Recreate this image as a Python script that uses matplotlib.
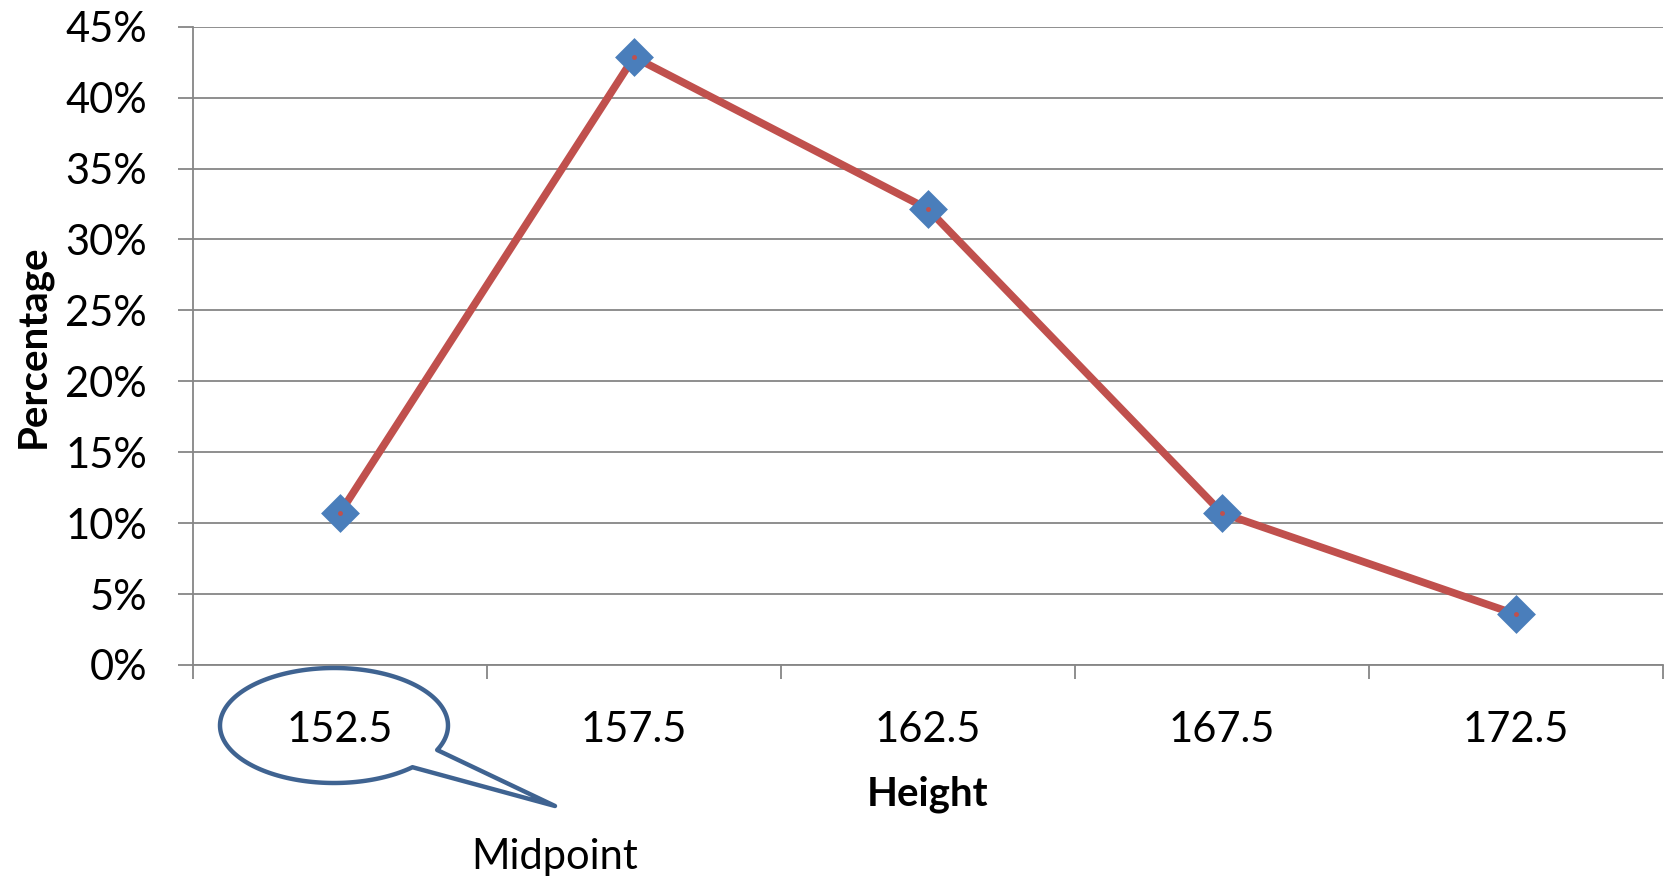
import numpy as np
import matplotlib
matplotlib.use('Agg')
import matplotlib.pyplot as plt
from matplotlib.patches import Polygon
from matplotlib.ticker import FuncFormatter

plt.rcParams['font.family'] = ['Lato', 'DejaVu Sans']

heights = ['152.5', '157.5', '162.5', '167.5', '172.5']
percentages = [10.71, 42.86, 32.14, 10.71, 3.57]
y_ticks = [0, 5, 10, 15, 20, 25, 30, 35, 40, 45]

W, H = 1673, 876
fig = plt.figure(figsize=(W / 100, H / 100), dpi=100)
ax = fig.add_axes([193 / W, 1 - 665 / H, (1663 - 193) / W, (665 - 26.7) / H])

grid_col = '#868686'
x = np.arange(len(heights))
ax.plot(x, percentages, color='#C0504D', lw=5.5, zorder=3, solid_capstyle='round')
ax.plot(x, percentages, ls='none', marker='D', ms=16, mfc='#4A7EBB', mec='#4A7EBB',
        mew=3.5, zorder=4)
ax.plot(x, percentages, ls='none', marker='o', ms=3.5, mfc='#C0504D', mec='none', zorder=5)

ax.set_xlim(-0.5, len(heights) - 0.5)
ax.set_ylim(0, 45)
ax.set_yticks(y_ticks)
ax.yaxis.set_major_formatter(FuncFormatter(lambda v, p: '%d%%' % v))
ax.set_xticks(np.arange(len(heights) + 1) - 0.5)
ax.set_xticklabels([])
ax.set_xticks(x, minor=True)
ax.set_xticklabels(heights, minor=True)
ax.tick_params(axis='x', which='minor', length=0, pad=33, labelsize=30)
ax.tick_params(axis='x', which='major', length=10, width=1.3, color=grid_col)
ax.tick_params(axis='y', length=11, width=1.3, color=grid_col, pad=22, labelsize=30)

ax.yaxis.grid(True, color=grid_col, lw=1.3)
ax.set_axisbelow(True)
for s in ['top', 'right']:
    ax.spines[s].set_visible(False)
for s in ['left', 'bottom']:
    ax.spines[s].set_color(grid_col)
    ax.spines[s].set_linewidth(1.3)

ax.set_xlabel('Height', fontsize=29, fontweight='bold', labelpad=19)
ax.set_ylabel('Percentage', fontsize=29, fontweight='bold', labelpad=10)

# speech bubble callout around the first label (pixel coords, y down)
cx, cy, a, b = 334, 725.5, 114, 57.5
t = np.radians(np.linspace(25.2, 46.5 - 360, 200))
px = list(cx + a * np.cos(t)) + [555]
py = list(cy + b * np.sin(t)) + [806]
pts = [(u / W, 1 - v / H) for u, v in zip(px, py)]
fig.patches.append(Polygon(pts, closed=True, fill=False, ec='#3F6391', lw=3.2,
                           joinstyle='round', transform=fig.transFigure))
fig.text(555 / W, 1 - 869 / H, 'Midpoint', fontsize=30, ha='center', va='baseline')

fig.savefig('out.png', dpi=100)
